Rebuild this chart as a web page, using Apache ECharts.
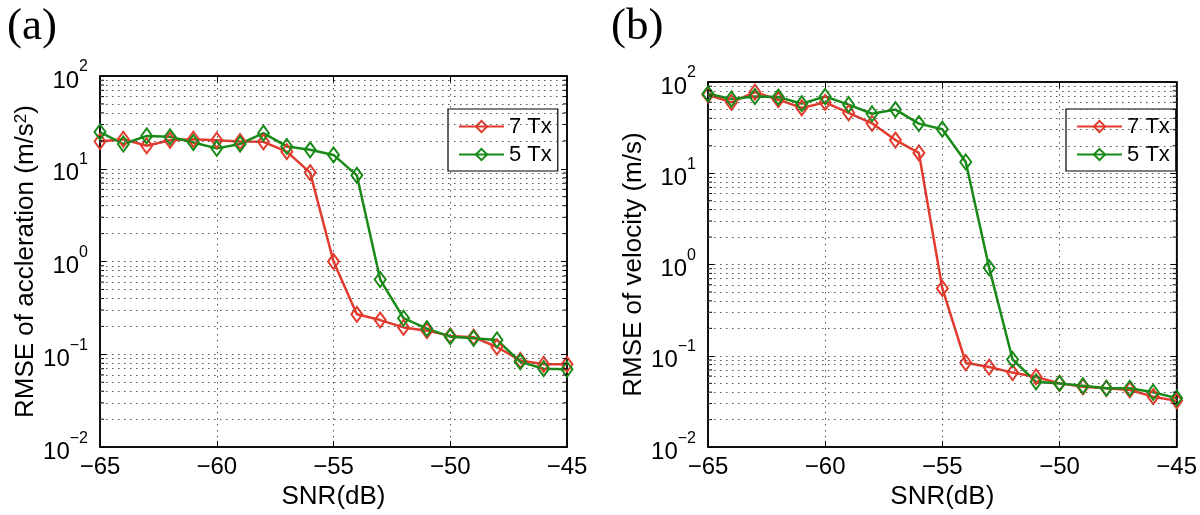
<!DOCTYPE html>
<html><head><meta charset="utf-8">
<script src="https://cdn.jsdelivr.net/npm/echarts@6/dist/echarts.min.js"></script>
<style>html,body{margin:0;padding:0;background:#fff}#c{width:1200px;height:515px}</style>
</head><body><div id="c"></div>
<script>
// ---- data ----
const snr = [-65,-64,-63,-62,-61,-60,-59,-58,-57,-56,-55,-54,-53,-52,-51,-50,-49,-48,-47,-46,-45];
const accel7Tx = [19.7,20.8,17.7,20.3,20.8,20.3,19.7,19.5,15.3,9.1,1.0,0.27,0.234,0.195,0.18,0.158,0.153,0.12,0.086,0.078,0.078];
const accel5Tx = [24.9,18.5,22.6,22.1,19.2,16.6,18.5,24.2,17.4,16.0,14.1,8.5,0.64,0.245,0.189,0.155,0.149,0.143,0.083,0.07,0.069];
const vel7Tx = [72.4,59.8,77.4,64,52,59.8,46,35.3,23.1,16.7,0.548,0.084,0.0753,0.0655,0.0587,0.0499,0.0458,0.0441,0.0423,0.0357,0.0321];
const vel5Tx = [74.2,65.1,69.4,68.4,57.9,69.4,56.5,44.9,49.9,35,30.4,13.3,0.92,0.0912,0.0519,0.0499,0.047,0.0441,0.0441,0.0399,0.0344];
const seriesNames = ['7 Tx','5 Tx'];
const panelLabels = ['(a)','(b)'];
const yTitles = ['RMSE of accleration (m/s{s|2})','RMSE of velocity (m/s)'];
const xTitle = 'SNR(dB)';
const xRange = [-65,-45];
const yRange = [0.01,100];
const minorGrid = [0.02,0.03,0.04,0.05,0.06,0.07,0.08,0.09,0.2,0.3,0.4,0.5,0.6,0.7,0.8,0.9,2,3,4,5,6,7,8,9,20,30,40,50,60,70,80,90];

// ---- style ----
const RED = '#e23b2e', GREEN = '#178a17';
const FONT = "'Liberation Sans', Arial, Helvetica, sans-serif";
const dotted = {color:'#555', width:1, type:[1.5,4.5]};

function xLabel(v){ return v < 0 ? '\u2212' + Math.abs(v) : String(v); }
function yLabel(v){
  const e = Math.round(Math.log10(v));
  const s = e < 0 ? '\u2212' + (-e) : String(e);
  return '{b|10}{s|' + s + '}';
}
const yRich = {
  b:{fontSize:24, fontFamily:FONT, color:'#000', verticalAlign:'bottom', lineHeight:34},
  s:{fontSize:16, fontFamily:FONT, color:'#000', verticalAlign:'top', lineHeight:16}
};
const titleRich = {
  s:{fontSize:17, fontFamily:FONT, color:'#000', verticalAlign:'top', lineHeight:18}
};

function mainX(gi){
  return {type:'value', gridIndex:gi, position:'bottom', min:xRange[0], max:xRange[1], interval:5,
    axisLine:{show:true, onZero:false, lineStyle:{color:'#000', width:1.5}},
    axisTick:{show:true, inside:true, length:6, lineStyle:{color:'#000'}},
    axisLabel:{formatter:xLabel, fontSize:24, fontFamily:FONT, color:'#000', margin:8},
    splitLine:{show:true, lineStyle:dotted},
    name:xTitle, nameLocation:'middle', nameGap:32,
    nameTextStyle:{fontSize:26, fontFamily:FONT, color:'#000'}};
}
function topX(gi){
  return {type:'value', gridIndex:gi, position:'top', min:xRange[0], max:xRange[1], interval:5,
    axisLine:{show:true, onZero:false, lineStyle:{color:'#000', width:1.5}},
    axisTick:{show:true, inside:true, length:6, lineStyle:{color:'#000'}},
    axisLabel:{show:false}, splitLine:{show:false}};
}
function mainY(gi, title, gap){
  return {type:'log', logBase:10, gridIndex:gi, position:'left', min:yRange[0], max:yRange[1],
    axisLine:{show:true, onZero:false, lineStyle:{color:'#000', width:1.5}},
    axisTick:{show:true, inside:true, length:6, lineStyle:{color:'#000'}},
    axisLabel:{formatter:yLabel, rich:yRich, margin:12},
    splitLine:{show:true, lineStyle:dotted},
    name:title, nameLocation:'middle', nameGap:gap, nameRotate:90,
    nameTextStyle:{fontSize:26, fontFamily:FONT, color:'#000', rich:titleRich}};
}
function rightY(gi){
  return {type:'log', logBase:10, gridIndex:gi, position:'right', min:yRange[0], max:yRange[1],
    axisLine:{show:true, onZero:false, lineStyle:{color:'#000', width:1.5}},
    axisTick:{show:true, inside:true, length:6, lineStyle:{color:'#000'}},
    axisLabel:{show:false}, splitLine:{show:false}};
}
function minorSeries(xi, yi){
  return {type:'line', name:'minor'+xi, xAxisIndex:xi, yAxisIndex:yi, data:[], silent:true, z:1,
    markLine:{silent:true, symbol:['none','none'], label:{show:false}, animation:false,
      lineStyle:dotted, emphasis:{disabled:true},
      data:minorGrid.map(v => ({yAxis:v}))}};
}
function minorTickSeries(xi, yi){
  return {type:'custom', name:'minorTicks'+xi, xAxisIndex:xi, yAxisIndex:yi, silent:true, z:4,
    data:minorGrid.map(v => [xRange[0], v]),
    renderItem:function(params, api){
      const v = api.value(1);
      const l = api.coord([xRange[0], v]);
      const r = api.coord([xRange[1], v]);
      const st = {stroke:'#000', lineWidth:1};
      return {type:'group', children:[
        {type:'line', shape:{x1:l[0], y1:l[1], x2:l[0]+4, y2:l[1]}, style:st},
        {type:'line', shape:{x1:r[0], y1:r[1], x2:r[0]-4, y2:r[1]}, style:st}
      ]};
    }};
}
function dataSeries(name, color, xs, ys, xi, yi){
  return {type:'line', name:name, xAxisIndex:xi, yAxisIndex:yi,
    data:xs.map((x,i)=>[x, ys[i]]),
    symbol:'diamond', symbolSize:[11,15], showAllSymbol:true, z:3,
    lineStyle:{color:color, width:2.5},
    itemStyle:{color:'rgba(255,255,255,0)', borderColor:color, borderWidth:2},
    emphasis:{disabled:true}};
}
function legend(left, top){
  return {left:left, top:top, orient:'vertical', data:seriesNames,
    backgroundColor:'#fff', borderColor:'#000', borderWidth:1.2,
    padding:[6,6,5,10], itemWidth:45, itemHeight:14, itemGap:5,
    textStyle:{fontSize:22, fontFamily:FONT, color:'#000', lineHeight:23}};
}

const chart = echarts.init(document.getElementById('c'), null, {renderer:'canvas'});
chart.setOption({
  animation:false,
  backgroundColor:'#fff',
  title:[
    {text:panelLabels[0], left:2, top:0, textStyle:{fontFamily:"'Liberation Serif', 'Times New Roman', serif", fontSize:45, fontWeight:'normal', color:'#000'}},
    {text:panelLabels[1], left:606, top:0, textStyle:{fontFamily:"'Liberation Serif', 'Times New Roman', serif", fontSize:45, fontWeight:'normal', color:'#000'}}
  ],
  grid:[
    {left:100, top:76, width:467, height:375, show:true, borderColor:'#000', borderWidth:1.5, backgroundColor:'transparent'},
    {left:708, top:82, width:477, height:370, show:true, borderColor:'#000', borderWidth:1.5, backgroundColor:'transparent'}
  ],
  xAxis:[mainX(0), topX(0), mainX(1), topX(1)],
  yAxis:[mainY(0, yTitles[0], 57), rightY(0), mainY(1, yTitles[1], 61), rightY(1)],
  legend:[legend(448,109), legend(1066,109)],
  series:[
    minorSeries(0,0), minorSeries(2,2),
    minorTickSeries(0,0), minorTickSeries(2,2),
    dataSeries(seriesNames[0], RED, snr, accel7Tx, 0, 0),
    dataSeries(seriesNames[1], GREEN, snr, accel5Tx, 0, 0),
    dataSeries(seriesNames[0], RED, snr, vel7Tx, 2, 2),
    dataSeries(seriesNames[1], GREEN, snr, vel5Tx, 2, 2)
  ]
});
</script></body></html>
